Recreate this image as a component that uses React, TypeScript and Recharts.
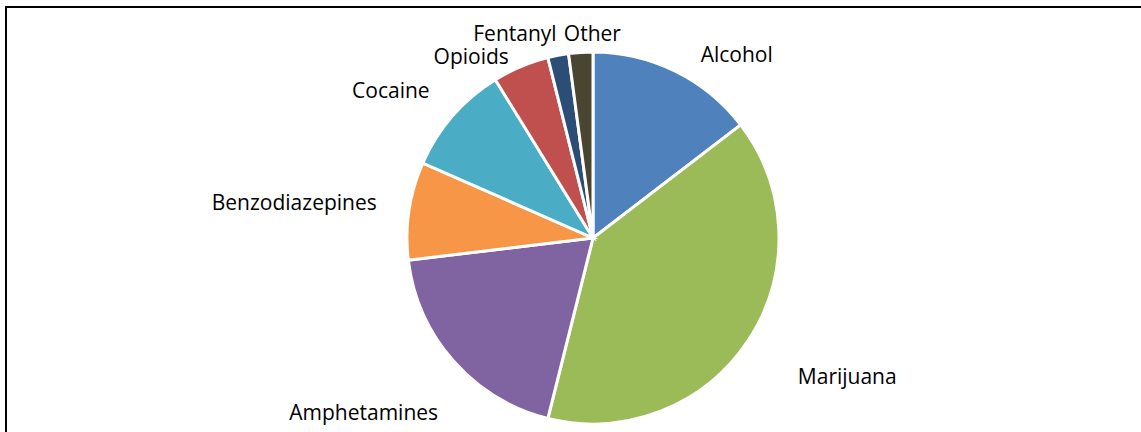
import { PieChart, Pie, Cell } from 'recharts';

const categories = [
  'Alcohol',
  'Marijuana',
  'Amphetamines',
  'Benzodiazepines',
  'Cocaine',
  'Opioids',
  'Fentanyl',
  'Other',
];

// share of results, in percent
const shares = [14.6, 39.3, 19.2, 8.5, 9.6, 4.9, 1.8, 2.1];

const colors = [
  '#4F81BD',
  '#9BBB59',
  '#8064A2',
  '#F79646',
  '#4BACC6',
  '#C0504D',
  '#2C4D75',
  '#4A4530',
];

// Excel "best fit" label spots: angle shift from the slice middle (deg) and distance from centre
const labelPlacement: Record<string, { turn: number; dist: number }> = {
  Alcohol: { turn: 13.0, dist: 227 },
  Marijuana: { turn: -3.5, dist: 293 },
  Amphetamines: { turn: 2.9, dist: 293 },
  Benzodiazepines: { turn: -3.2, dist: 300 },
  Cocaine: { turn: -6.3, dist: 246 },
  Opioids: { turn: -12.2, dist: 212 },
  Fentanyl: { turn: -10.8, dist: 212 },
  Other: { turn: 3.6, dist: 197 },
};

const data = categories.map((name, i) => ({ name, value: shares[i] }));

const RADIAN = Math.PI / 180;

const renderLabel = (props: any) => {
  const { cx, cy, midAngle, name } = props;
  const place = labelPlacement[name] || { turn: 0, dist: 210 };
  // recharts angles run counter-clockwise from 3 o'clock; convert to clockwise from 12
  const a = (90 - midAngle + place.turn) * RADIAN;
  const x = cx + place.dist * Math.sin(a);
  const y = cy - place.dist * Math.cos(a);
  return (
    <text
      x={x}
      y={y}
      textAnchor="middle"
      fill="#000"
      style={{ fontFamily: '"Open Sans", sans-serif', fontSize: '21px' }}
    >
      {name}
    </text>
  );
};

export default function App() {
  return (
    <div
      style={{
        position: 'fixed',
        left: 0,
        top: 0,
        width: 1141,
        height: 432,
        overflow: 'hidden',
        background: '#fff',
      }}
    >
      <div
        style={{
          position: 'absolute',
          left: 5,
          top: 6,
          width: 1200,
          height: 500,
          borderTop: '2px solid #000',
          borderLeft: '2px solid #000',
        }}
      />
      <div style={{ position: 'absolute', left: 0, top: 0 }}>
        <PieChart width={1141} height={432}>
          <Pie
            data={data}
            dataKey="value"
            nameKey="name"
            cx={588}
            cy={233}
            outerRadius={186}
            startAngle={90}
            endAngle={-270}
            stroke="#fff"
            strokeWidth={3}
            label={renderLabel}
            labelLine={false}
            isAnimationActive={false}
          >
            {data.map((d, i) => (
              <Cell key={d.name} fill={colors[i]} />
            ))}
          </Pie>
        </PieChart>
      </div>
    </div>
  );
}
